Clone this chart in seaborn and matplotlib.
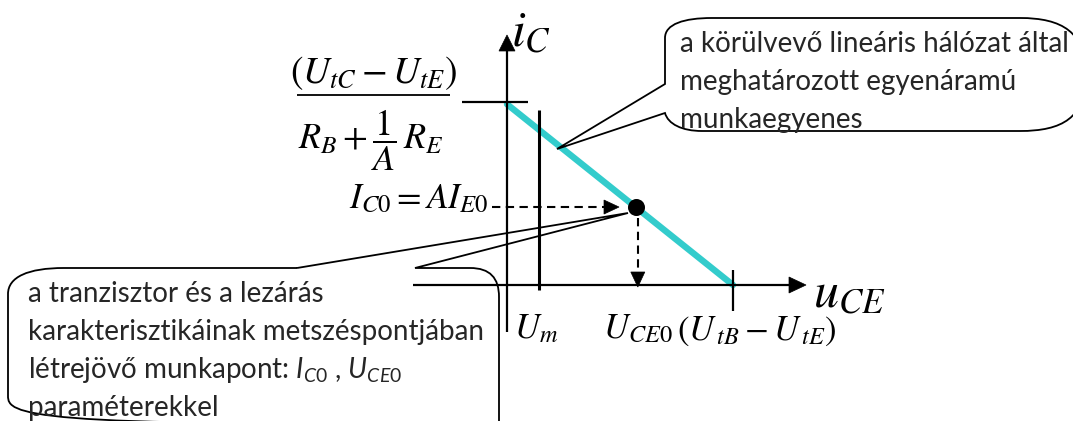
import matplotlib
matplotlib.use("Agg")
import matplotlib.pyplot as plt
from matplotlib.path import Path
from matplotlib.patches import PathPatch, Polygon
import pandas as pd
import seaborn as sns

# ---- circuit values (arbitrary units) ----
u_open = 10.0     # (U_tB - U_tE): load line meets the u_CE axis
i_short = 8.0     # (U_tC - U_tE)/(R_B + R_E/A): load line meets the i_C axis
u_ce0 = 5.7       # operating point voltage U_CE0
i_c0 = 3.45       # operating point current I_C0
u_m = 1.4         # U_m

load_line = pd.DataFrame({"u": [0.0, u_open], "i": [i_short, 0.0]})
op_point = pd.DataFrame({"u": [u_ce0], "i": [i_c0]})

sns.set_theme(style="white")
plt.rcParams["mathtext.it"] = "Lato:italic"
plt.rcParams["mathtext.rm"] = "Lato"
plt.rcParams["mathtext.fallback"] = "stix"

W, H, DPI = 1073, 421, 100
fig = plt.figure(figsize=(W / DPI, H / DPI), dpi=DPI)
ax = fig.add_axes([0, 0, 1, 1])

# scale: pixels per unit, and pixel position of the origin
S = 22.6
X0, Y0 = 507, 285


def P(px, py):
    """pixel layout position -> data coordinates"""
    return ((px - X0) / S, (Y0 - py) / S)


def px_x(u):
    return X0 + u * S


def px_y(i):
    return Y0 - i * S


ax.set_xlim(P(0, 0)[0], P(W, 0)[0])
ax.set_ylim(P(0, H)[1], P(0, 0)[1])
ax.set_axis_off()

BLACK = "black"
CYAN = "#33CCCC"


def seg(p1, p2, lw=1.6, ls="-", z=3):
    (x1, y1), (x2, y2) = P(*p1), P(*p2)
    ax.plot([x1, x2], [y1, y2], color=BLACK, lw=lw, ls=ls, zorder=z,
            solid_capstyle="butt", dash_capstyle="butt")


def head(tip_px, d, length=16, half=7.5):
    tx, ty = tip_px
    dx, dy = d  # pixel direction (y down)
    bx, by = tx - dx * length, ty - dy * length
    pts = [(tx, ty), (bx - dy * half, by + dx * half), (bx + dy * half, by - dx * half)]
    ax.add_patch(Polygon([P(*p) for p in pts], closed=True, fc=BLACK, ec=BLACK,
                         lw=0.5, zorder=4))


# ---- load line and operating point ----
sns.lineplot(data=load_line, x="u", y="i", color=CYAN, lw=4.6, ax=ax, zorder=2)
sns.scatterplot(data=op_point, x="u", y="i", color=BLACK, s=150, ax=ax,
                zorder=5, edgecolor=BLACK, linewidth=0)

# ---- axes with arrows ----
seg((X0, 332), (X0, 50))
head((X0, 35), (0, -1), length=16, half=8)
seg((413, Y0), (790, Y0))
head((806, Y0), (1, 0), length=17, half=8)

# intercept marker on i_C axis, tick at u_open, U_m line
seg((462, px_y(i_short) - 2), (528, px_y(i_short) - 2))
seg((px_x(u_open), 270), (px_x(u_open), 311))
seg((px_x(u_m), 110), (px_x(u_m), 290), lw=2.2)

# dashed guides to the operating point
dash = (0, (4.0, 2.6))
seg((492, px_y(i_c0)), (604, px_y(i_c0)), lw=1.5, ls=dash)
head((619, px_y(i_c0)), (1, 0), length=15, half=7)
seg((px_x(u_ce0) + 2, px_y(i_c0) + 11), (px_x(u_ce0) + 2, 272), lw=1.5, ls=dash)
head((px_x(u_ce0) + 2, 287), (0, 1), length=15, half=7)


# ---- callouts ----
def callout(cmds):
    verts, codes = [], []
    for c, pts in cmds:
        pts = [P(*p) for p in pts]
        if c == "M":
            codes.append(Path.MOVETO); verts += pts
        elif c == "L":
            codes.append(Path.LINETO); verts += pts
        elif c == "C":
            codes += [Path.CURVE4] * 3; verts += pts
    verts.append(verts[0]); codes.append(Path.CLOSEPOLY)
    patch = PathPatch(Path(verts, codes), fc="none", ec=BLACK, lw=1.3, zorder=3)
    ax.add_patch(patch)
    return patch


box1 = callout([
    ("M", [(665, 84)]), ("L", [(665, 38)]),
    ("C", [(665, 24), (684, 18), (712, 18)]), ("L", [(1020, 18)]),
    ("C", [(1062, 18), (1086, 32), (1086, 75)]),
    ("C", [(1086, 118), (1062, 131), (1020, 131)]), ("L", [(702, 131)]),
    ("C", [(682, 131), (668, 124), (665, 113)]), ("L", [(557, 149)]),
])

box2 = callout([
    ("M", [(297, 268)]), ("L", [(628, 213)]), ("L", [(415, 268)]),
    ("L", [(470, 268)]), ("C", [(490, 268), (499, 278), (499, 297)]),
    ("L", [(499, 428)]), ("L", [(45, 428)]),
    ("C", [(22, 428), (8, 414), (8, 396)]), ("L", [(8, 294)]),
    ("C", [(8, 277), (28, 268), (64, 268)]),
])

# ---- callout text ----
TXT = ["Lato", "DejaVu Sans"]
renderer = fig.canvas.get_renderer()


def width_at(s, size):
    t = ax.text(0, 0, s, fontsize=size, family=TXT)
    w = t.get_window_extent(renderer).width
    t.remove()
    return w


fs = 0.5 * (10 * 381 / width_at("a körülvevő lineáris hálózat által", 10)
            + 10 * 464 / width_at("karakterisztikáinak metszéspontjában", 10))

lines1 = ["a körülvevő lineáris hálózat által",
          "meghatározott egyenáramú",
          "munkaegyenes"]
for k, s in enumerate(lines1):
    t = ax.text(*P(680, 52 + 38 * k), s, fontsize=fs, family=TXT,
                ha="left", va="baseline", zorder=6)
    t.set_clip_path(box1)

lines2 = ["a tranzisztor és a lezárás",
          "karakterisztikáinak metszéspontjában",
          r"létrejövő munkapont: $I_{\mathit{C0}}$ , $U_{\mathit{CE0}}$",
          "paraméterekkel"]
for k, s in enumerate(lines2):
    t = ax.text(*P(28, 302 + 38 * k), s, fontsize=fs, family=TXT,
                ha="left", va="baseline", zorder=6, math_fontfamily="custom")
    t.set_clip_path(box2)

# ---- formula labels ----
MF = dict(math_fontfamily="stix", family="STIXGeneral", color=BLACK, zorder=6)

ax.text(*P(511, 46), r"$i_C$", fontsize=36, ha="left", va="baseline", **MF)
ax.text(*P(813, 307), r"$u_{CE}$", fontsize=36, ha="left", va="baseline", **MF)

ax.text(*P(374, 83), r"$(U_{tC} - U_{tE})$", fontsize=27, ha="center",
        va="baseline", **MF)
seg((297, 95), (450, 95), lw=1.3)
ax.text(*P(371, 149), r"$R_B + \dfrac{1}{A}\,R_E$", fontsize=26, ha="center",
        va="baseline", **MF)

ax.text(*P(488, 208), r"$I_{C0} = AI_{E0}$", fontsize=25.5, ha="right",
        va="baseline", **MF)
ax.text(*P(514, 338), r"$U_m$", fontsize=25, ha="left", va="baseline", **MF)
ax.text(*P(603, 338), r"$U_{CE0}$", fontsize=25, ha="left", va="baseline", **MF)
ax.text(*P(677, 340), r"$(U_{\,tB} - U_{\,tE})$", fontsize=25, ha="left",
        va="baseline", **MF)

fig.savefig("out.png", dpi=DPI, facecolor="white")
